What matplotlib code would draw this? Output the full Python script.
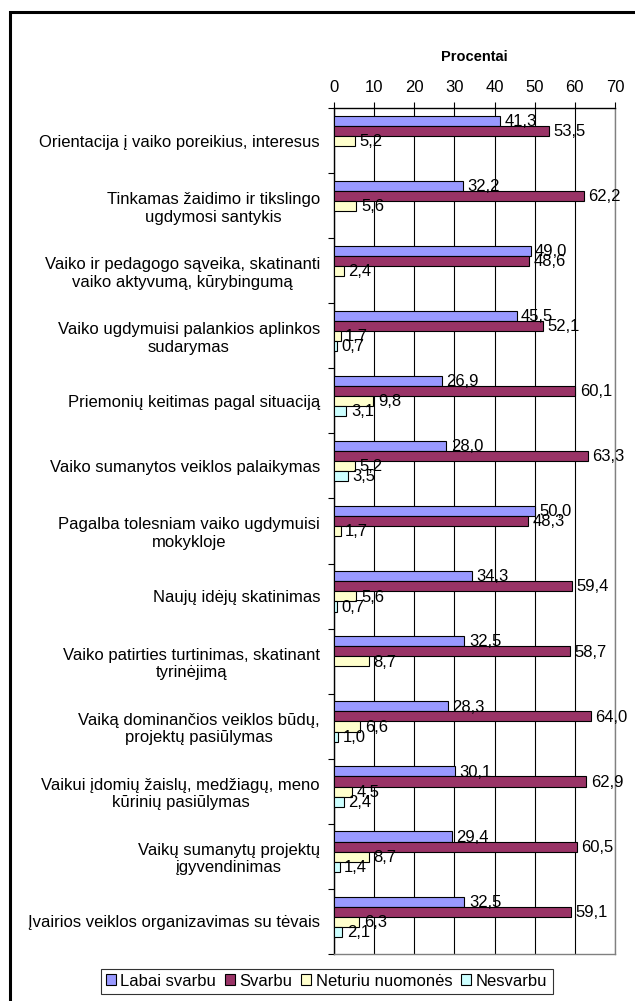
import numpy as np
import matplotlib.pyplot as plt
from matplotlib.patches import Rectangle

plt.rcParams['font.family'] = ['Liberation Sans', 'DejaVu Sans']

# Data
categories = [
    "Orientacija į vaiko poreikius, interesus",
    "Tinkamas žaidimo ir tikslingo\nugdymosi santykis",
    "Vaiko ir pedagogo sąveika, skatinanti\nvaiko aktyvumą, kūrybingumą",
    "Vaiko ugdymuisi palankios aplinkos\nsudarymas",
    "Priemonių keitimas pagal situaciją",
    "Vaiko sumanytos veiklos palaikymas",
    "Pagalba tolesniam vaiko ugdymuisi\nmokykloje",
    "Naujų idėjų skatinimas",
    "Vaiko patirties turtinimas, skatinant\ntyrinėjimą",
    "Vaiką dominančios veiklos būdų,\nprojektų pasiūlymas",
    "Vaikui įdomių žaislų, medžiagų, meno\nkūrinių pasiūlymas",
    "Vaikų sumanytų projektų\nįgyvendinimas",
    "Įvairios veiklos organizavimas su tėvais",
]
labai_svarbu = [41.3, 32.2, 49.0, 45.5, 26.9, 28.0, 50.0, 34.3, 32.5, 28.3, 30.1, 29.4, 32.5]
svarbu = [53.5, 62.2, 48.6, 52.1, 60.1, 63.3, 48.3, 59.4, 58.7, 64.0, 62.9, 60.5, 59.1]
neturiu_nuomones = [5.2, 5.6, 2.4, 1.7, 9.8, 5.2, 1.7, 5.6, 8.7, 6.6, 4.5, 8.7, 6.3]
nesvarbu = [0, 0, 0, 0.7, 3.1, 3.5, 0, 0.7, 0, 1.0, 2.4, 1.4, 2.1]

series = [
    ("Labai svarbu", labai_svarbu, "#9999FF"),
    ("Svarbu", svarbu, "#993366"),
    ("Neturiu nuomonės", neturiu_nuomones, "#FFFFCC"),
    ("Nesvarbu", nesvarbu, "#CCFFFF"),
]

fig = plt.figure(figsize=(6.35, 10.01), dpi=100)
ax = fig.add_axes([334 / 635, 1 - 954 / 1001, 281 / 635, 846 / 1001])

n = len(categories)
bar_h = 0.155
offset = 0.117
for k, (name, vals, color) in enumerate(series):
    vals = np.array(vals)
    idx = np.nonzero(vals > 0)[0]  # zero values are not drawn
    y = idx + offset + k * bar_h
    ax.barh(y, vals[idx], height=bar_h, align='edge', color=color,
            edgecolor='black', linewidth=0.8, label=name, zorder=3)
    for yy, v in zip(y, vals[idx]):
        ax.text(v + 1.1, yy + bar_h / 2 + 0.01, f"{v:.1f}".replace('.', ','),
                ha='left', va='center', fontsize=12, zorder=4)

ax.set_ylim(n, 0)
ax.set_xlim(0, 70)
ax.set_xticks(np.arange(0, 71, 10))
ax.xaxis.tick_top()
ax.tick_params(axis='x', which='major', length=4, width=0.8, labelsize=12, pad=5,
               direction='out', color='black')
ax.set_title("Procentai", fontsize=10.5, fontweight='bold', pad=34)

ax.set_yticks(np.arange(n) + 0.5)
ax.set_yticklabels(categories, fontsize=12)
for lab in ax.get_yticklabels():
    lab.set_multialignment('center')
ax.set_yticks(np.arange(n + 1), minor=True)
ax.tick_params(axis='y', which='major', length=0, pad=10)
ax.tick_params(axis='y', which='minor', length=4, width=0.8, direction='out')

ax.grid(axis='x', color='black', linewidth=0.8, zorder=0)
ax.spines['left'].set_color('black')
ax.spines['top'].set_color('black')
ax.spines['right'].set_color('#808080')
ax.spines['bottom'].set_color('#808080')
for s in ax.spines.values():
    s.set_linewidth(1.0)

leg = fig.legend(loc='center', bbox_to_anchor=(326.5 / 635, 1 - 981 / 1001), ncol=4,
                 fontsize=12, frameon=True, fancybox=False, edgecolor='black',
                 handlelength=0.6, handleheight=0.6, handletextpad=0.3,
                 columnspacing=0.5, borderpad=0.3, borderaxespad=0)
leg.get_frame().set_linewidth(0.8)

fig.patches.append(Rectangle((10 / 635, -0.1), 1.2, 1.1 - 12 / 1001,
                             transform=fig.transFigure, fill=False,
                             edgecolor='black', linewidth=2.2))

fig.savefig("out.png", dpi=100)
